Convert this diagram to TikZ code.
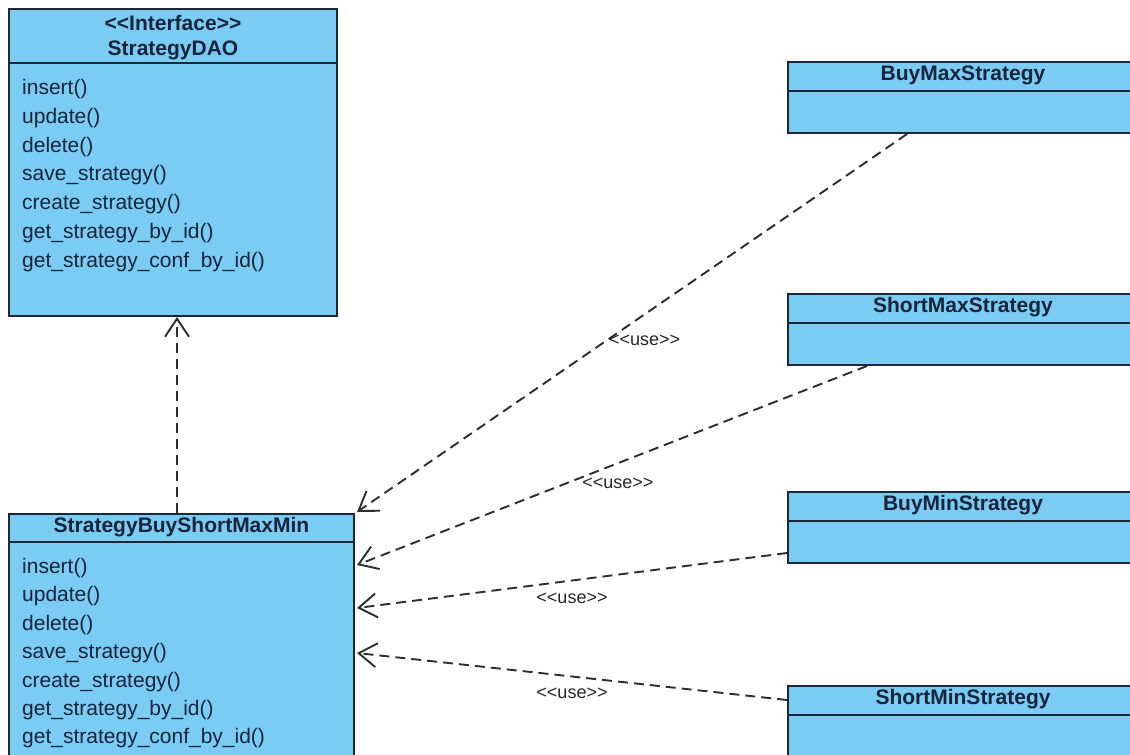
\documentclass[tikz,border=0pt]{standalone}
\usepackage{fontspec}
\setmainfont{Liberation Sans}
\usetikzlibrary{arrows.meta, calc, positioning}

\definecolor{classfill}{RGB}{122,204,242}
\definecolor{classline}{RGB}{30,40,52}
\definecolor{classtext}{RGB}{24,36,60}
\definecolor{useline}{RGB}{45,45,45}

% stereotype brackets, kept apart so they stay two signs
\newcommand{\umlst}[1]{<{}<#1>{}>}

\tikzset{
  classbox/.style={draw=classline, line width=2pt, fill=classfill, inner sep=0pt},
  classsep/.style={draw=classline, line width=2pt},
  classname/.style={font=\fontsize{21}{25}\selectfont\bfseries, text=classtext, inner sep=0pt, align=center},
  method/.style={font=\fontsize{21}{25}\selectfont, text=classtext, anchor=west, inner sep=0pt},
  uses/.style={draw=useline, line width=1.9pt, dash pattern=on 10pt off 6pt,
               -{Straight Barb[length=18pt, width=24pt]}},
  uselabel/.style={font=\fontsize{18}{20}\selectfont, text=black!85, inner sep=0pt}
}

\begin{document}
\begin{tikzpicture}[x=1pt, y=-1pt]
\useasboundingbox (0,0) rectangle (1130,755);
\clip (0,0) rectangle (1130,755);

% The interface
\node[classbox, anchor=north west, minimum width=328pt, minimum height=307pt] (dao) at (8,8) {};
\draw[classsep] ($(dao.north west)+(0,55)$) -- ($(dao.north east)+(0,55)$);
\node[classname] at ($(dao.north)+(0,30)$) {\umlst{Interface}\\StrategyDAO};
    \foreach \m [count=\i from 0] in {insert(), update(), delete(), save\_strategy(),
                                      create\_strategy(), get\_strategy\_by\_id(),
                                      get\_strategy\_conf\_by\_id()} {
        \node[method] at ($(dao.north west)+(14,81+28.8*\i)$) {\m};
    };

% The implementation, same methods
\node[classbox, anchor=north west, minimum width=345pt, minimum height=260pt] (buyshort) at (8,513) {};
\draw[classsep] ($(buyshort.north west)+(0,29)$) -- ($(buyshort.north east)+(0,29)$);
\node[classname] at ($(buyshort.north)+(0,14)$) {StrategyBuyShortMaxMin};
    \foreach \m [count=\i from 0] in {insert(), update(), delete(), save\_strategy(),
                                      create\_strategy(), get\_strategy\_by\_id(),
                                      get\_strategy\_conf\_by\_id()} {
        \node[method] at ($(buyshort.north west)+(14,55+28.4*\i)$) {\m};
    };

% The four strategies on the right
    \foreach \name/\title/\top in {buymax/BuyMaxStrategy/61,
                                   shortmax/ShortMaxStrategy/293,
                                   buymin/BuyMinStrategy/491,
                                   shortmin/ShortMinStrategy/685} {
        \node[classbox, anchor=north west, minimum width=350pt, minimum height=71pt] (\name) at (787,\top) {};
        \draw[classsep] ($(\name.north west)+(0,30)$) -- ($(\name.north east)+(0,30)$);
        \node[classname] at ($(\name.north)+(0,14)$) {\title};
    };

% Realization
\coordinate (implfoot) at ($(buyshort.north west)+(169,0)$);
\draw[uses] (implfoot) -- (implfoot |- dao.south);

% The <<use>> dependencies
\coordinate (bmaxfoot) at ($(buymax.south west)+(120,0)$);
\coordinate (smaxfoot) at ($(shortmax.south west)+(80,0)$);
\coordinate (bminside) at ($(buymin.south west)+(0,-11)$);
\coordinate (sminside) at ($(shortmin.north west)+(0,15)$);
\draw[uses] (bmaxfoot) -- ($(buyshort.north east)+(2,-1)$)
    node[uselabel, pos=0.547, anchor=west, xshift=2pt] {\umlst{use}};
\draw[uses] (smaxfoot) -- ($(buyshort.north east)+(2,52)$)
    node[uselabel, pos=0.56, anchor=west, yshift=-6pt] {\umlst{use}};
\draw[uses] (bminside) -- ($(buyshort.north east)+(2,95)$)
    node[uselabel, pos=0.5, below=12pt] {\umlst{use}};
\draw[uses] (sminside) -- ($(buyshort.north east)+(2,140)$)
    node[uselabel, pos=0.5, below=11pt] {\umlst{use}};
\end{tikzpicture}
\end{document}
